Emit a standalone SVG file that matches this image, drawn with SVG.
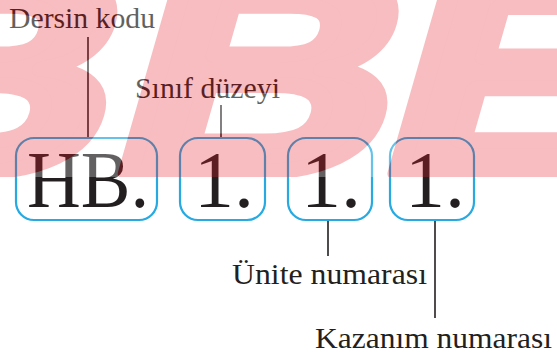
<svg xmlns="http://www.w3.org/2000/svg" width="557" height="357" viewBox="0 0 557 357">
  <defs>
    <clipPath id="wmclip"><rect x="0" y="0" width="557" height="177"/></clipPath>
  </defs>
  <style>
    .lbl{font-family:"Liberation Serif","Times New Roman",serif;font-size:30px;fill:#231f20}
    .code{font-family:"Liberation Serif","Times New Roman",serif;font-size:80px;fill:#231f20;text-anchor:middle}
    .box{fill:none;stroke:#27aae1;stroke-width:2.2}
    .ln{stroke:#231f20;stroke-width:1.6;fill:none}
    .wm{font-family:"Liberation Sans",Arial,sans-serif;font-weight:bold;font-size:286px;fill:#e61e28;stroke:#e61e28;stroke-width:16;stroke-linejoin:round}
  </style>
  <rect x="0" y="0" width="557" height="357" fill="#fff"/>

  <g id="connectors">
    <line class="ln" x1="88" y1="37" x2="88" y2="138"/>
    <line class="ln" x1="221" y1="105" x2="221" y2="138"/>
    <line class="ln" x1="328" y1="220" x2="328" y2="256"/>
    <line class="ln" x1="435" y1="220" x2="435" y2="318"/>
  </g>

  <g id="label-dersin"><text class="lbl" x="9" y="28" textLength="146" lengthAdjust="spacingAndGlyphs">Dersin kodu</text></g>
  <g id="label-sinif"><text class="lbl" x="135" y="98" textLength="145" lengthAdjust="spacingAndGlyphs">Sınıf düzeyi</text></g>
  <g id="label-unite"><text class="lbl" x="232" y="284" textLength="195" lengthAdjust="spacingAndGlyphs">Ünite numarası</text></g>
  <g id="label-kazanim"><text class="lbl" x="315" y="348" textLength="237" lengthAdjust="spacingAndGlyphs">Kazanım numarası</text></g>

  <g id="node-hb">
    <rect class="box" x="16" y="138" width="141" height="82" rx="18"/>
    <text class="code" x="88" y="207" textLength="122" lengthAdjust="spacingAndGlyphs">HB.</text>
  </g>
  <g id="node-sinif">
    <rect class="box" x="180" y="138" width="85" height="82" rx="18"/>
    <text class="code" x="224" y="207">1.</text>
  </g>
  <g id="node-unite">
    <rect class="box" x="288" y="138" width="84" height="82" rx="18"/>
    <text class="code" x="331" y="207">1.</text>
  </g>
  <g id="node-kazanim">
    <rect class="box" x="390" y="138" width="84" height="82" rx="18"/>
    <text class="code" x="435" y="207">1.</text>
  </g>

  <g id="watermark" opacity="0.29" clip-path="url(#wmclip)">
    <rect x="0" y="0" width="557" height="177" fill="#fff" stroke="none"/>
    <g transform="translate(49.3,0) skewX(-16)">
      <text class="wm" transform="translate(-178,172) scale(1.32,1)" x="0" y="0">B</text>
      <text class="wm" transform="translate(103.3,172) scale(1.32,1)" x="0" y="0">B</text>
      <text class="wm" transform="translate(373,172) scale(1.32,1)" x="0" y="0">E</text>
    </g>
  </g>
</svg>
